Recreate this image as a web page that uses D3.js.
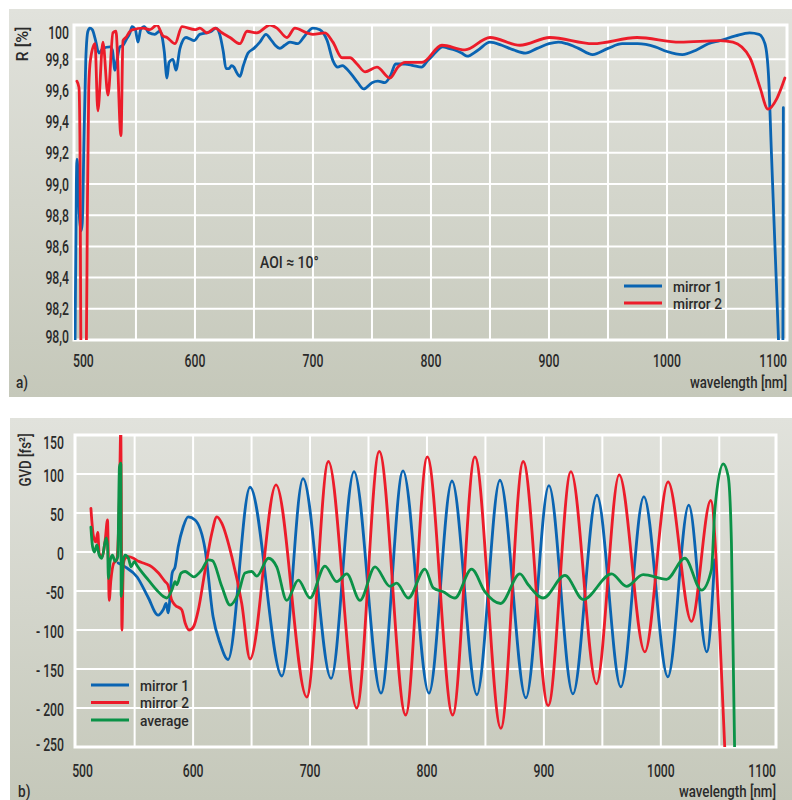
<!DOCTYPE html>
<html>
<head>
<meta charset="utf-8">
<script src="https://cdn.jsdelivr.net/npm/d3@7"></script>
<style>
  html, body { margin: 0; padding: 0; background: #ffffff; }
  svg { display: block; }
  text { font-family: Roboto, "DejaVu Sans Condensed", sans-serif; font-weight: 500; fill: #2a2a2a; }
</style>
</head>
<body>
<svg id="chart" width="792" height="800"></svg>
<script>
// ---------------- DATA ----------------
// Panel a) reflectance R [%] vs wavelength [nm]
const mirror1R = [
  [498.3, 97.9], [499.5, 99.0], [500.0, 99.16], [501.0, 99.05], [502.0, 98.8], [503.5, 98.70],
  [504.5, 98.75], [506.0, 99.3], [507.5, 99.8], [509.3, 99.98], [511.0, 100.0], [513.0, 99.99],
  [515.5, 99.93], [518.6, 99.84], [522.0, 99.87], [528.0, 99.88], [530.0, 99.86], [532.2, 99.73],
  [534.0, 99.80], [536.4, 99.88], [539.0, 99.89], [542.0, 99.93], [545.0, 99.97], [546.6, 100.01],
  [549.5, 99.99], [551.7, 99.91], [554.0, 99.99], [557.0, 100.01], [561.0, 99.97], [566.0, 99.96],
  [570.0, 99.98], [572.0, 99.95], [574.0, 99.85], [576.3, 99.68], [578.0, 99.78], [581.4, 99.80],
  [583.9, 99.73], [587.3, 99.87], [592.4, 99.94], [596.0, 99.93], [599.2, 99.92], [604.0, 99.96],
  [610.0, 99.97], [614.0, 99.98], [617.8, 100.0], [621.0, 99.96], [624.0, 99.85], [626.3, 99.74],
  [628.8, 99.74], [631.0, 99.76], [633.0, 99.75], [635.0, 99.72], [638.1, 99.69], [641.0, 99.76],
  [645.0, 99.84], [650.0, 99.87], [655.0, 99.91], [660.2, 99.96], [664.0, 99.93], [668.0, 99.89],
  [672.0, 99.87], [676.0, 99.89], [680.5, 99.91], [687.0, 99.90], [693.0, 99.95], [700.0, 100.0],
  [705.9, 99.99], [712.0, 99.92], [717.0, 99.79], [721.0, 99.75], [725.0, 99.76], [727.0, 99.75],
  [733.0, 99.70], [738.0, 99.65], [743.0, 99.61], [750.0, 99.65], [755.0, 99.66], [761.0, 99.65],
  [766.0, 99.70], [770.0, 99.77], [774.0, 99.77], [778.0, 99.77], [785.0, 99.76], [792.0, 99.75],
  [797.0, 99.79], [802.0, 99.83], [810.0, 99.88], [815.0, 99.87], [820.0, 99.86], [826.0, 99.84],
  [830.5, 99.82], [840.0, 99.86], [850.0, 99.91], [860.0, 99.89], [870.0, 99.86], [880.0, 99.84],
  [890.0, 99.87], [900.0, 99.90], [908.0, 99.91], [915.0, 99.90], [925.0, 99.87], [937.0, 99.83],
  [950.0, 99.87], [962.0, 99.90], [975.0, 99.90], [990.0, 99.88], [1000.0, 99.85], [1013.0, 99.83],
  [1025.0, 99.86], [1035.0, 99.90], [1045.0, 99.92], [1058.0, 99.95], [1070.0, 99.97], [1078.0, 99.96],
  [1083.0, 99.90], [1086.0, 99.70], [1088.5, 99.2], [1091.5, 98.6], [1095.0, 97.9], [1096.8, 97.5],
  [1098.2, 97.9], [1098.6, 99.49]
];
const mirror2R = [
  [500.0, 99.66], [501.7, 99.62], [502.5, 99.3], [503.5, 97.9], [507.9, 97.9], [508.8, 98.8],
  [510.0, 99.62], [511.5, 99.80], [515.3, 99.90], [517.7, 99.47], [522.0, 99.91], [526.3, 99.57],
  [530.5, 99.97], [533.0, 99.98], [537.3, 99.31], [539.0, 99.92], [541.5, 99.94], [545.0, 99.98],
  [547.5, 99.99], [556.0, 100.0], [561.9, 99.99], [567.8, 100.02], [572.9, 99.95], [576.3, 99.94],
  [583.1, 99.90], [589.0, 100.01], [600.0, 99.99], [604.2, 100.0], [610.2, 99.97], [617.0, 100.0],
  [622.9, 99.97], [629.7, 99.94], [638.1, 99.90], [644.1, 99.98], [652.5, 99.97], [663.6, 100.02],
  [669.5, 100.0], [678.0, 99.94], [684.7, 100.0], [694.9, 99.97], [700.0, 99.96], [710.2, 99.97],
  [716.9, 99.91], [724.6, 99.81], [731.4, 99.81], [737.3, 99.77], [744.1, 99.72], [754.2, 99.75],
  [765.3, 99.68], [772.0, 99.75], [778.0, 99.78], [792.4, 99.78], [809.3, 99.89], [828.8, 99.86],
  [850.0, 99.94], [875.4, 99.89], [900.8, 99.94], [937.3, 99.90], [974.6, 99.94], [1011.0, 99.91],
  [1044.9, 99.92], [1055.9, 99.91], [1070.3, 99.81], [1078.8, 99.62], [1085.6, 99.48], [1093.2, 99.55],
  [1099.9, 99.68]
];

// Panel b) group delay dispersion GVD [fs²] vs wavelength [nm]
const mirror1GVD = [
  [535.9, -14], [541.9, -19], [552.1, -32], [561.5, -58], [570.1, -81], [574.4, -74], [577.0, -66],
  [578.6, -78], [582.1, -27], [584.6, -19], [587.2, 6], [591.5, 32], [595.7, 45], [601.7, 41],
  [610.3, 3], [617.1, -83], [623.1, -117], [629.9, -138], [648.7, 83], [676.0, -159], [694.0, 94],
  [718.0, -162], [737.6, 103], [760.7, -181], [779.5, 104], [801.7, -181], [821.4, 91], [842.7, -183],
  [862.4, 92], [884.6, -187], [904.3, 85], [924.8, -182], [945.3, 73], [965.8, -173], [985.5, 71],
  [1006.0, -160], [1023.9, 60], [1039.3, -128], [1046.0, -10]
];
const mirror2GVD = [
  [512.6, 56], [514.8, 20], [516.8, 13], [518.5, 25], [519.7, -2], [522.0, -6], [524.8, 15],
  [526.8, 41], [527.6, -15], [528.2, -62], [529.7, -36], [531.9, -15], [534.8, -10], [537.0, 71],
  [538.2, 160], [538.7, 28], [539.1, -100], [540.4, -15], [541.9, -8], [544.7, -6], [549.0, -8],
  [553.3, -12], [559.0, -15], [564.7, -19], [570.4, -27], [576.1, -38], [578.4, -42], [581.8, -62],
  [584.6, -68], [590.3, -74], [593.2, -91], [596.6, -100], [600.3, -96], [604.5, -74], [610.3, -23],
  [616.0, 24], [620.3, 45], [624.5, 37], [633.1, -6], [641.6, -66], [648.7, -137], [670.9, 86],
  [697.2, -186], [715.7, 116], [739.9, -200], [759.2, 129], [781.8, -209], [800.3, 122], [822.0, -209],
  [841.0, 122], [863.2, -226], [882.3, 116], [903.7, -197], [923.1, 103], [945.0, -169], [964.4, 99],
  [986.3, -128], [1006.2, 90], [1026.2, -89], [1042.7, 66], [1050.4, -104], [1055.0, -262]
];
const averageGVD = [
  [512.6, 32], [514.0, 7], [515.7, 0], [517.7, 9], [519.7, -4], [522.0, -8], [525.6, 18], [526.8, 9],
  [527.6, -34], [529.0, -12], [531.0, -4], [533.3, -12], [535.6, -6], [537.0, 109], [538.2, 114],
  [538.5, -57], [540.4, -10], [541.9, -4], [544.7, -8], [547.0, -19], [549.8, -12], [551.9, -17],
  [554.7, -23], [561.8, -36], [569.0, -49], [574.6, -57], [577.5, -59], [581.8, -49], [584.6, -38],
  [586.1, -42], [589.7, -27], [593.2, -25], [597.4, -29], [600.3, -32], [607.4, -23], [613.1, -10],
  [616.5, -11], [624.5, -44], [631.6, -68], [638.7, -53], [644.4, -27], [650.2, -25], [654.4, -31],
  [664.4, -8], [671.5, -19], [680.1, -62], [690.0, -36], [700.0, -59], [712.8, -18], [722.8, -38],
  [731.4, -28], [742.7, -62], [755.6, -19], [768.4, -44], [774.1, -40], [784.0, -59], [798.3, -22],
  [805.4, -46], [813.9, -51], [823.9, -59], [838.2, -22], [849.6, -51], [863.0, -66], [879.5, -28],
  [886.6, -42], [899.4, -59], [918.0, -30], [933.6, -61], [957.9, -28], [970.7, -44], [984.9, -29],
  [1004.9, -35], [1020.5, -8], [1034.8, -49], [1043.3, -23], [1046.2, 54], [1053.3, 113],
  [1057.6, 97], [1060.4, 11], [1063.2, -260]
];

// Axes ticks and labels
const xTickValues = [500, 600, 700, 800, 900, 1000, 1100];
const xTickLabels = ["500", "600", "700", "800", "900", "1000", "1100"];
const xGridValues = [550, 600, 650, 700, 750, 800, 850, 900, 950, 1000, 1050];
const rTickValues = [98.0, 98.2, 98.4, 98.6, 98.8, 99.0, 99.2, 99.4, 99.6, 99.8, 100];
const rTickLabels = ["98,0", "98,2", "98,4", "98,6", "98,8", "99,0", "99,2", "99,4", "99,6", "99,8", "100"];
const gvdTickValues = [150, 100, 50, 0, -50, -100, -150, -200, -250];
const gvdTickLabels = ["150", "100", "50", "0", "-50", "- 100", "- 150", "- 200", "- 250"];
const legendTop = ["mirror 1", "mirror 2"];
const legendBottom = ["mirror 1", "mirror 2", "average"];

// ---------------- DRAWING ----------------
const COLORS = { m1: "#0a64b2", m2: "#ec1c2a", avg: "#0b9247" };
const svg = d3.select("#chart");
const defs = svg.append("defs");
const grad = defs.append("linearGradient").attr("id", "bg").attr("x1", 0).attr("y1", 0).attr("x2", 0).attr("y2", 1);
grad.append("stop").attr("offset", "0%").attr("stop-color", "#e1e2dc");
grad.append("stop").attr("offset", "100%").attr("stop-color", "#c5c8ba");

// condensed-looking text: horizontal squeeze of a regular face
function txt(g, x, y, str, o) {
  o = o || {};
  const t = g.append("text")
    .attr("transform", `translate(${x},${y})` + (o.rotate ? ` rotate(${o.rotate})` : "") + ` scale(${o.sx || 0.72},1)`)
    .attr("text-anchor", o.anchor || "start")
    .attr("font-size", o.size || 17)
    .text(str);
  if (o.dy) t.attr("dy", o.dy);
  return t;
}

function panel(cfg) {
  const g = svg.append("g");
  g.append("rect").attr("x", cfg.px0).attr("y", cfg.py0).attr("width", cfg.px1 - cfg.px0)
    .attr("height", cfg.py1 - cfg.py0).attr("fill", "url(#bg)");

  const x = d3.scaleLinear().domain(cfg.xDomain).range([cfg.left, cfg.right]);
  const y = d3.scaleLinear().domain(cfg.yDomain).range([cfg.bottom, cfg.top]);

  const clipId = cfg.id + "clip";
  defs.append("clipPath").attr("id", clipId).append("rect")
    .attr("x", cfg.left).attr("y", cfg.top).attr("width", cfg.right - cfg.left).attr("height", cfg.bottom - cfg.top);

  // grid
  g.selectAll(".vg").data(xGridValues).join("line")
    .attr("x1", d => x(d)).attr("x2", d => x(d)).attr("y1", cfg.top).attr("y2", cfg.bottom)
    .attr("stroke", "#ffffff").attr("stroke-width", 2);
  g.selectAll(".hg").data(cfg.yGrid).join("line")
    .attr("x1", cfg.left).attr("x2", cfg.right).attr("y1", d => y(d)).attr("y2", d => y(d))
    .attr("stroke", "#ffffff").attr("stroke-width", 2);
  g.append("rect").attr("x", cfg.left).attr("y", cfg.top).attr("width", cfg.right - cfg.left)
    .attr("height", cfg.bottom - cfg.top).attr("fill", "none").attr("stroke", "#ffffff").attr("stroke-width", 3);

  // curves
  const line = d3.line().x(d => x(d[0])).y(d => y(d[1])).curve(d3.curveMonotoneX);
  const lg = g.append("g").attr("clip-path", `url(#${clipId})`);
  cfg.series.forEach(s => {
    lg.append("path").datum(s.data).attr("d", line).attr("fill", "none")
      .attr("stroke", s.color).attr("stroke-width", 2.8).attr("stroke-linejoin", "round").attr("stroke-linecap", "round");
  });

  // y tick labels
  cfg.yTicks.forEach((v, i) => {
    const ty = Math.min(Math.max(y(v) + cfg.yLabelShift, cfg.yLabelMin), cfg.yLabelMax);
    txt(g, cfg.yLabelX, ty, cfg.yLabels[i], { anchor: "end", size: 18, sx: 0.68, dy: "0.36em" });
  });

  // x tick labels
  xTickValues.forEach((v, i) => {
    const last = i === xTickValues.length - 1;
    const xx = i === 0 ? x(v) - 4 : (last ? cfg.right : x(v));
    txt(g, xx, cfg.xLabelY, xTickLabels[i], { anchor: i === 0 ? "start" : (last ? "end" : "middle"), size: 18.5, sx: 0.66 });
  });

  // axis titles
  txt(g, cfg.right, cfg.xTitleY, "wavelength [nm]", { anchor: "end", size: 17, sx: 0.78 });
  txt(g, cfg.yTitleX, cfg.yTitleY, cfg.yTitle, { anchor: "middle", size: 17, sx: cfg.yTitleSx, rotate: -90 });
  txt(g, cfg.tagX, cfg.xTitleY, cfg.tag, { size: 17, sx: 0.8 });

  // legend
  cfg.legend.forEach((name, i) => {
    const ly = cfg.legendY + i * cfg.legendStep;
    g.append("line").attr("x1", cfg.legendX).attr("x2", cfg.legendX + 38).attr("y1", ly).attr("y2", ly)
      .attr("stroke", cfg.series[i].color).attr("stroke-width", 3);
    txt(g, cfg.legendX + 49, ly + 5.5, name, { size: 14.5, sx: 0.95 });
  });
  return { g, x, y };
}

const a = panel({
  id: "a", px0: 9, py0: 9, px1: 792, py1: 397,
  left: 74, right: 787, top: 25, bottom: 340,
  xDomain: [497.5, 1101.7], yDomain: [98.0, 100.02],
  yGrid: [98.2, 98.4, 98.6, 98.8, 99.0, 99.2, 99.4, 99.6, 99.8],
  yTicks: rTickValues, yLabels: rTickLabels, yLabelX: 69, yLabelShift: 0, yLabelMin: 33, yLabelMax: 337,
  xLabelY: 367, xTitleY: 388, yTitleX: 28, yTitleY: 44, yTitle: "R [%]", yTitleSx: 0.95, tagX: 16, tag: "a)",
  series: [{ data: mirror1R, color: COLORS.m1 }, { data: mirror2R, color: COLORS.m2 }],
  legend: legendTop, legendX: 624, legendY: 286, legendStep: 17
});
txt(a.g, 260, 268, "AOI ≈ 10°", { size: 17, sx: 0.82 });

panel({
  id: "b", px0: 10, py0: 418, px1: 792, py1: 800,
  left: 75, right: 776, top: 435, bottom: 747,
  xDomain: [499, 1098.5], yDomain: [-250, 150],
  yGrid: [100, 50, 0, -50, -100, -150, -200],
  yTicks: gvdTickValues, yLabels: gvdTickLabels, yLabelX: 64, yLabelShift: 2, yLabelMin: 443, yLabelMax: 745,
  xLabelY: 777, xTitleY: 797, yTitleX: 31, yTitleY: 460, yTitle: "GVD  [fs²]", yTitleSx: 0.78, tagX: 18, tag: "b)",
  series: [{ data: mirror1GVD, color: COLORS.m1 }, { data: mirror2GVD, color: COLORS.m2 }, { data: averageGVD, color: COLORS.avg }],
  legend: legendBottom, legendX: 91, legendY: 685, legendStep: 17.5
});
</script>
</body>
</html>
